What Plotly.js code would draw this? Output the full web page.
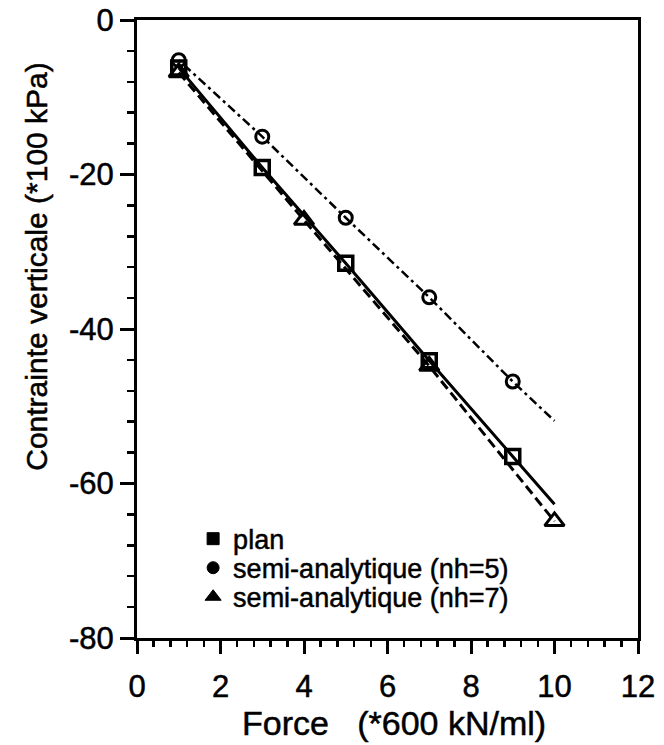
<!DOCTYPE html>
<html>
<head>
<meta charset="utf-8">
<script src="https://cdn.plot.ly/plotly-3.0.1.min.js"></script>
<style>
html,body{margin:0;padding:0;background:#fff;}
#chart{width:664px;height:745px;}
#chart svg text{stroke:#000 !important;stroke-width:0.5px !important;}
</style>
</head>
<body>
<div id="chart"></div>
<script>
// Data
var planX = [1, 3, 5, 7, 9];
var planY = [-6.2, -19.1, -31.5, -44.1, -56.5];
var planLineX = [1, 3, 5, 7, 9, 10];
var planLineY = [-6.2, -19.1, -31.5, -44.1, -56.5, -62.7];

var nh5X = [1, 3, 5, 7, 9];
var nh5Y = [-5.2, -15.1, -25.6, -35.9, -46.8];
var nh5LineX = [1, 3, 5, 7, 9, 10];
var nh5LineY = [-5.2, -15.1, -25.6, -35.9, -46.8, -51.9];

var nh7X = [1, 4, 7, 10];
var nh7Y = [-6.8, -25.9, -44.8, -64.9];

var names = ['plan', 'semi-analytique (nh=5)', 'semi-analytique (nh=7)'];
var xTickVals = [0, 2, 4, 6, 8, 10, 12];
var yTickVals = [0, -20, -40, -60, -80];
var yTickText = ['0', '-20', '-40', '-60', '-80'];
var xTitle = 'Force\u00A0\u00A0\u00A0(*600 kN/ml)';
var yTitle = 'Contrainte verticale (*100 kPa)';

var FONT = 'Liberation Sans, Arial, Helvetica, sans-serif';

var traces = [
  {x: planLineX, y: planLineY, mode: 'lines', line: {color: '#000', width: 3}, showlegend: false, hoverinfo: 'skip'},
  {x: nh5LineX, y: nh5LineY, mode: 'lines', line: {color: '#000', width: 2.5, dash: '3px,4px,9px,4px'}, showlegend: false, hoverinfo: 'skip'},
  {x: nh7X, y: nh7Y, mode: 'lines', line: {color: '#000', width: 3, dash: '10px,5px'}, showlegend: false, hoverinfo: 'skip'},
  {x: planX, y: planY, mode: 'markers', name: names[0], showlegend: false,
   marker: {symbol: 'square-open', size: 14, color: '#000', line: {width: 3.5, color: '#000'}}},
  {x: nh5X, y: nh5Y, mode: 'markers', name: names[1], showlegend: false,
   marker: {symbol: 'circle-open', size: 13, color: '#000', line: {width: 3, color: '#000'}}},
  {x: nh7X, y: nh7Y, mode: 'markers', name: names[2], showlegend: false,
   marker: {symbol: 'triangle-up-open', size: 17, color: '#000', line: {width: 3, color: '#000'}}},
  // legend entries (no data points of their own)
  {x: [null], y: [null], mode: 'markers', name: names[0], legend: 'legend',
   marker: {symbol: 'square', size: 12, color: '#000', line: {width: 1, color: '#000'}}},
  {x: [null], y: [null], mode: 'markers', name: names[1], legend: 'legend2',
   marker: {symbol: 'circle', size: 12, color: '#000', line: {width: 1, color: '#000'}}},
  {x: [null], y: [null], mode: 'markers', name: names[2], legend: 'legend3',
   marker: {symbol: 'triangle-up', size: 14, color: '#000', line: {width: 1, color: '#000'}}}
];

function leg(y) {
  return {x: 0.112, y: y, xanchor: 'left', yanchor: 'middle', bgcolor: 'rgba(0,0,0,0)',
          font: {family: FONT, size: 27, color: '#000'}, itemsizing: 'trace'};
}

var layout = {
  width: 664, height: 745,
  margin: {l: 137, r: 26, t: 20, b: 107},
  paper_bgcolor: '#fff', plot_bgcolor: '#fff',
  font: {family: FONT, color: '#000', size: 30},
  showlegend: true,
  legend: leg(0.160),
  legend2: leg(0.113),
  legend3: leg(0.066),
  xaxis: {
    range: [0, 12], tickmode: 'array', tickvals: xTickVals, showgrid: false, zeroline: false,
    showline: true, linewidth: 3, linecolor: '#000', mirror: true,
    ticks: 'outside', ticklen: 13, tickwidth: 3, tickcolor: '#000',
    tickfont: {family: FONT, size: 31, color: '#000'}, ticklabelstandoff: 6,
    minor: {dtick: 0.4, tick0: 0, ticks: 'outside', ticklen: 6, tickwidth: 2.5, tickcolor: '#000', showgrid: false},
    title: {text: ''}
  },
  yaxis: {
    range: [-80, 0], tickmode: 'array', tickvals: yTickVals, ticktext: yTickText, showgrid: false, zeroline: false,
    showline: true, linewidth: 3, linecolor: '#000', mirror: true,
    ticks: 'outside', ticklen: 14, tickwidth: 3, tickcolor: '#000',
    tickfont: {family: FONT, size: 31, color: '#000'}, ticklabelstandoff: 0,
    minor: {dtick: 4, tick0: 0, ticks: 'outside', ticklen: 7, tickwidth: 2.5, tickcolor: '#000', showgrid: false},
    title: {text: ''}
  },
  annotations: [{
    text: yTitle, textangle: -90, xref: 'paper', yref: 'paper',
    x: -0.20, y: 0.602, xanchor: 'center', yanchor: 'middle', showarrow: false,
    font: {family: FONT, size: 30, color: '#000'}
  }, {
    text: xTitle, xref: 'paper', yref: 'paper',
    x: 0.5125, y: -0.137, xanchor: 'center', yanchor: 'middle', showarrow: false,
    font: {family: FONT, size: 34, color: '#000'}
  }]
};

Plotly.newPlot('chart', traces, layout, {displayModeBar: false, staticPlot: true});
</script>
</body>
</html>
